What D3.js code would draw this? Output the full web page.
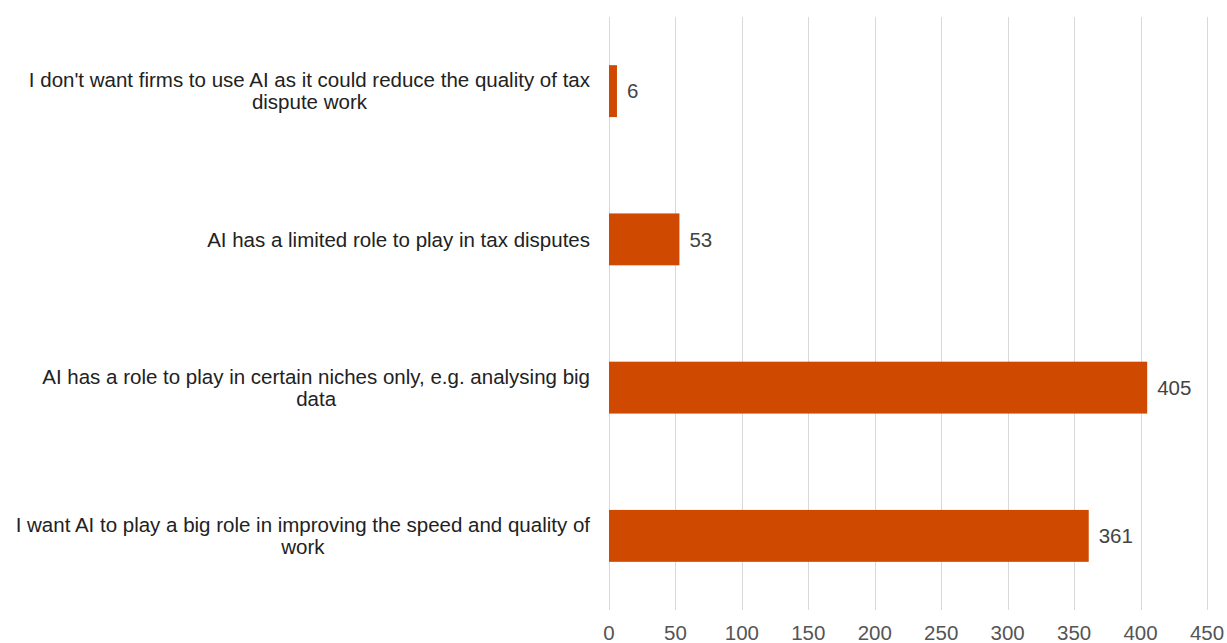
<!DOCTYPE html>
<html><head><meta charset="utf-8">
<script src="https://cdn.jsdelivr.net/npm/d3@7"></script>
<style>body{margin:0;background:#fff}svg{display:block}</style>
</head><body>
<svg id="c" width="1227" height="643"></svg>
<script>
const categories = [
  ["I don't want firms to use AI as it could reduce the quality of tax", "dispute work"],
  ["AI has a limited role to play in tax disputes"],
  ["AI has a role to play in certain niches only, e.g. analysing big", "data"],
  ["I want AI to play a big role in improving the speed and quality of", "work"]
];
const values = [6, 53, 405, 361];
const xTicks = [0, 50, 100, 150, 200, 250, 300, 350, 400, 450];

const svg = d3.select("#c");
const font = "Liberation Sans, Arial, sans-serif";
const fs = 20.5;
const x = d3.scaleLinear().domain([0, 450]).range([609, 1207]);
const y = d3.scaleBand().domain(d3.range(categories.length)).range([17, 610])
  .paddingInner(0.65).paddingOuter(0.325);

// gridlines
svg.append("g").selectAll("line").data(xTicks).join("line")
  .attr("x1", d => Math.round(x(d)) + 0.5).attr("x2", d => Math.round(x(d)) + 0.5)
  .attr("y1", 17).attr("y2", 610)
  .attr("stroke", "#d9d9d9").attr("stroke-width", 1);

// tick labels
svg.append("g").selectAll("text").data(xTicks).join("text")
  .attr("x", d => x(d)).attr("y", 640)
  .attr("text-anchor", "middle").attr("font-family", font).attr("font-size", fs)
  .attr("fill", "#555").text(d => d);

// bars
svg.append("g").selectAll("rect").data(values).join("rect")
  .attr("x", x(0)).attr("y", (d, i) => y(i))
  .attr("width", d => x(d) - x(0)).attr("height", y.bandwidth())
  .attr("fill", "#cf4a00");

// value labels
svg.append("g").selectAll("text").data(values).join("text")
  .attr("x", d => x(d) + 10).attr("y", (d, i) => y(i) + y.bandwidth() / 2)
  .attr("dy", "0.35em").attr("font-family", font).attr("font-size", fs)
  .attr("fill", "#444").text(d => d);

// category labels (block right aligned, lines centered within block)
const lineH = 22;
categories.forEach((lines, i) => {
  const g = svg.append("g");
  const cy = y(i) + y.bandwidth() / 2;
  const texts = lines.map((l, j) => g.append("text")
    .attr("font-family", font).attr("font-size", fs).attr("fill", "#222")
    .attr("text-anchor", "middle")
    .attr("y", cy + (j - (lines.length - 1) / 2) * lineH)
    .attr("dy", "0.35em").text(l));
  const maxW = d3.max(texts, t => t.node().getComputedTextLength());
  texts.forEach(t => t.attr("x", 590 - maxW / 2));
});
</script>
</body></html>
